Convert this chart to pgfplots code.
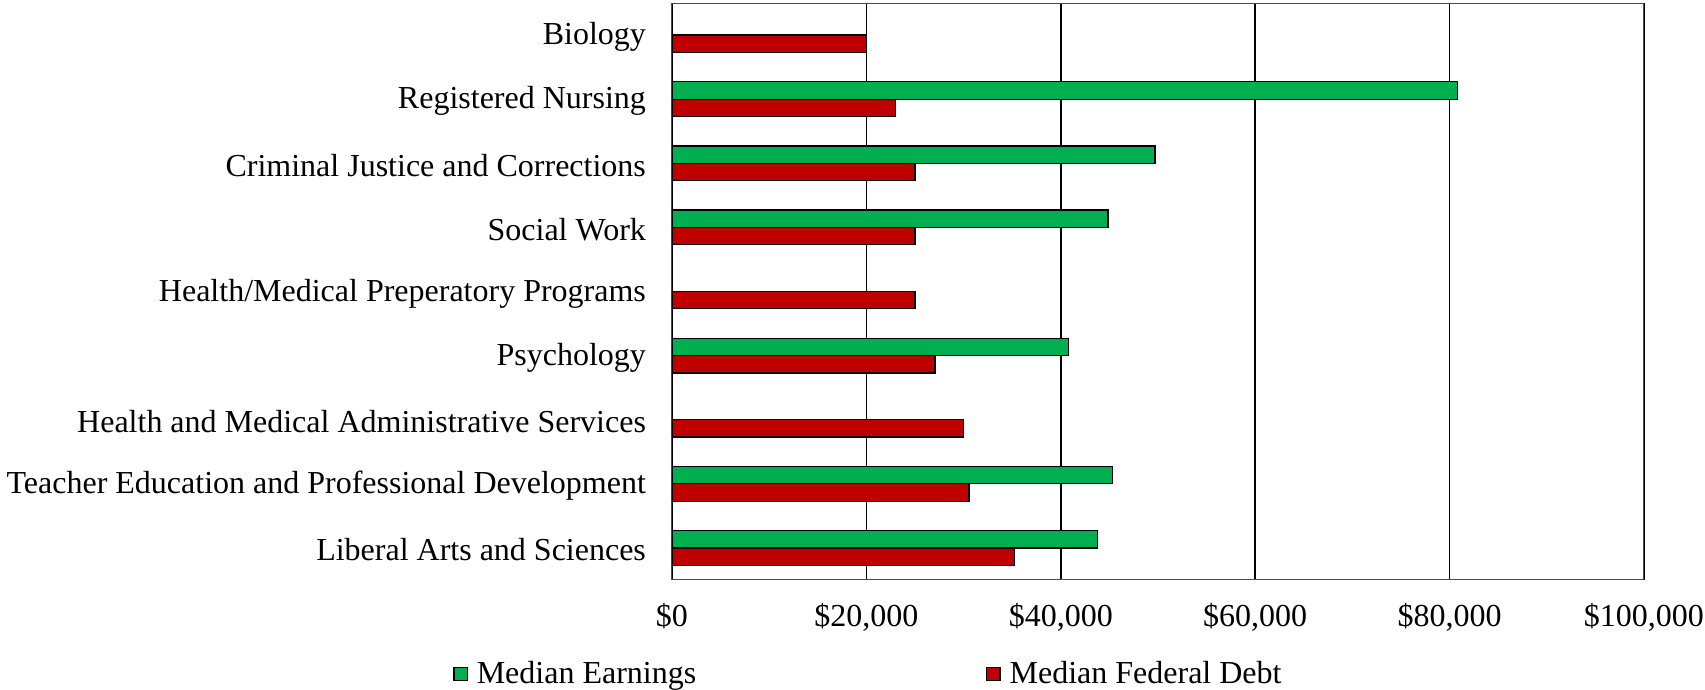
\documentclass[border=0pt]{standalone}
\usepackage{pgfplots}
\pgfplotsset{compat=1.18}
\usepackage{fontspec}
\setmainfont{Liberation Serif}
\definecolor{earn}{HTML}{00B050}
\definecolor{debt}{HTML}{C00000}
\pgfplotsset{sqleg/.style={legend image code/.code={%
    \draw[##1] (0pt,-3.4pt) rectangle (6.6pt,3.4pt);}}}

\begin{document}
\begin{tikzpicture}
\path[use as bounding box] (-336pt,-55pt) rectangle (516.5pt,290pt);
\begin{axis}[
    at={(0,0)}, anchor=south west,
    scale only axis,
    width=486pt, height=288.5pt,
    xbar, bar width=0.27,
    xmin=0, xmax=100000,
    ymin=-0.5, ymax=8.5,
    scaled x ticks=false,
    xtick={0,20000,40000,60000,80000,100000},
    xticklabels={{\$0},{\$20,000},{\$40,000},{\$60,000},{\$80,000},{\$100,000}},
    ytick={0,1,2,3,4,5,6,7,8},
    yticklabels={Liberal Arts and Sciences,
        Teacher Education and Professional Development,
        Health and Medical Administrative Services,
        Psychology,
        Health/Medical Preperatory Programs,
        Social Work,
        Criminal Justice and Corrections,
        Registered Nursing,
        Biology},
    major tick length=0pt,
    xmajorgrids,
    grid style={black, line width=0.75pt},
    axis line style={black!70, line width=0.5pt},
    tick label style={font=\fontsize{16}{19}\selectfont},
    xticklabel style={yshift=-8pt},
    yticklabel style={xshift=-9.5pt, yshift=-1pt},
    legend columns=2,
    legend style={draw=none, inner sep=0pt,
        at={(-0.2253,-0.163)}, anchor=west,
        font=\fontsize{16}{19}\selectfont,
        /tikz/every odd column/.append style={column sep=2.5pt},
        /tikz/every even column/.append style={column sep=143pt}},
]
% Median Earnings
\addplot[draw=black, line width=0.6pt, fill=earn, bar shift=0.135, sqleg]
    coordinates {
    (43800,0) (45350,1) (40800,3) (44850,5) (49700,6) (80800,7)
};
% Median Federal Debt
\addplot[draw=black, line width=0.6pt, fill=debt, bar shift=-0.135, sqleg]
    coordinates {
    (35250,0) (30550,1) (30000,2) (27050,3) (25000,4) (25000,5)
    (25000,6) (23000,7) (20000,8)
};
\legend{Median Earnings, Median Federal Debt}
\end{axis}
\end{tikzpicture}
\end{document}
